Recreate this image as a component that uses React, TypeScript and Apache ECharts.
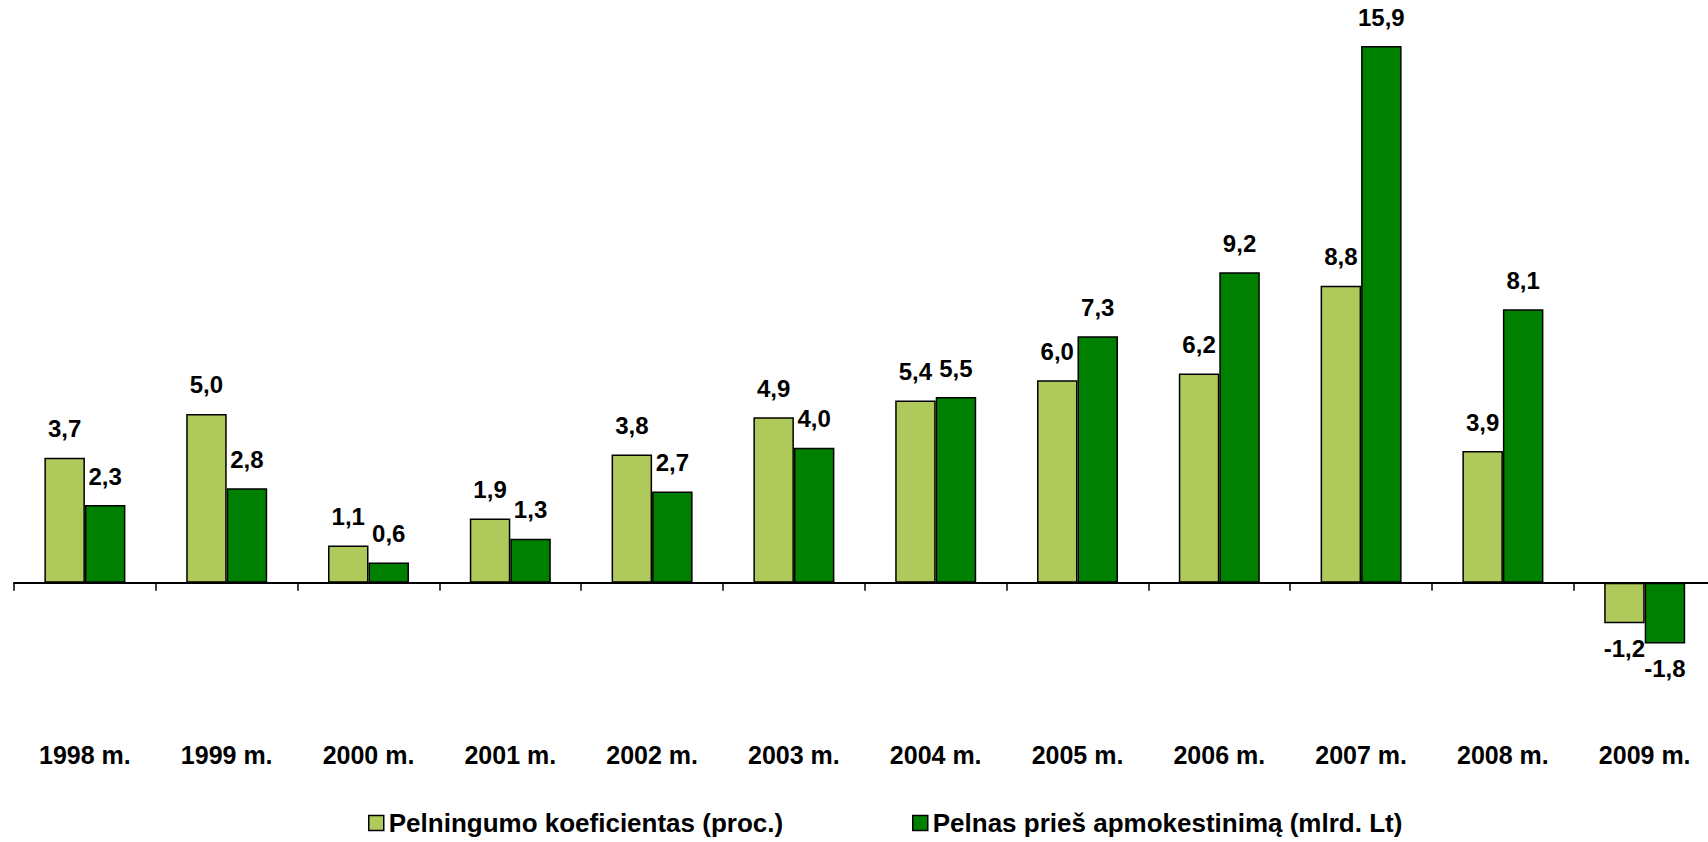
import React, { useEffect, useRef } from "react";
import * as echarts from "echarts";

const categories = ["1998 m.", "1999 m.", "2000 m.", "2001 m.", "2002 m.", "2003 m.", "2004 m.", "2005 m.", "2006 m.", "2007 m.", "2008 m.", "2009 m."];
const seriesNames = ["Pelningumo koeficientas (proc.)", "Pelnas prieš apmokestinimą (mlrd. Lt)"];
const profitability = [3.7, 5.0, 1.1, 1.9, 3.8, 4.9, 5.4, 6.0, 6.2, 8.8, 3.9, -1.2];
const profitBeforeTax = [2.3, 2.8, 0.6, 1.3, 2.7, 4.0, 5.5, 7.3, 9.2, 15.9, 8.1, -1.8];
const colors = ["#AFCA5B", "#008000"];

const FONT = "'Liberation Sans', Arial, sans-serif";

const fmt = (v: number) => v.toFixed(1).replace(".", ",");

function makeData(values: number[]) {
  return values.map((v) =>
    v < 0
      ? { value: v, label: { position: "bottom", distance: 13 } }
      : { value: v }
  );
}

export default function App() {
  const ref = useRef<HTMLDivElement>(null);
  useEffect(() => {
    if (!ref.current) return;
    const chart = echarts.init(ref.current, undefined, { renderer: "svg" });
    const labelCfg = {
      show: true,
      position: "top",
      distance: 17,
      fontFamily: FONT,
      fontWeight: "bold",
      fontSize: 24,
      color: "#000",
      formatter: (p: any) => fmt(p.value),
    };
    const legendBase = {
      top: 810,
      padding: 0,
      itemWidth: 15,
      itemHeight: 15,
      icon: "rect",
      itemStyle: { borderColor: "#000", borderWidth: 1.5 },
      textStyle: { fontFamily: FONT, fontWeight: "bold", fontSize: 26, color: "#000" },
    };
    chart.setOption({
      animation: false,
      backgroundColor: "#fff",
      grid: { left: 14, width: 1701.6, top: 42.7, height: 607.5 },
      legend: [
        { ...legendBase, left: 368, data: [seriesNames[0]] },
        { ...legendBase, left: 912, data: [seriesNames[1]] },
      ],
      xAxis: {
        type: "category",
        data: categories,
        boundaryGap: true,
        axisLine: { onZero: true, lineStyle: { color: "#000", width: 2 } },
        axisTick: { show: true, length: 8, inside: false, lineStyle: { color: "#000", width: 1.5 } },
        axisLabel: {
          interval: 0,
          margin: 92,
          fontFamily: FONT,
          fontWeight: "bold",
          fontSize: 25,
          color: "#000",
        },
        splitLine: { show: false },
      },
      yAxis: {
        type: "value",
        min: -2,
        max: 16,
        show: false,
        splitLine: { show: false },
      },
      series: [
        {
          name: seriesNames[0],
          type: "bar",
          barWidth: 40.5,
          barGap: "0%",
          data: makeData(profitability),
          itemStyle: { color: colors[0], borderColor: "#000", borderWidth: 1.5 },
          label: labelCfg,
        },
        {
          name: seriesNames[1],
          type: "bar",
          barWidth: 40.5,
          barGap: "0%",
          data: makeData(profitBeforeTax),
          itemStyle: { color: colors[1], borderColor: "#000", borderWidth: 1.5 },
          label: labelCfg,
        },
      ],
    });
    return () => chart.dispose();
  }, []);
  return (
    <div
      style={{ position: "fixed", left: 0, top: 0, width: 1708, height: 842, overflow: "hidden", background: "#fff" }}
    >
      <div ref={ref} style={{ width: 1730, height: 842 }} />
    </div>
  );
}
